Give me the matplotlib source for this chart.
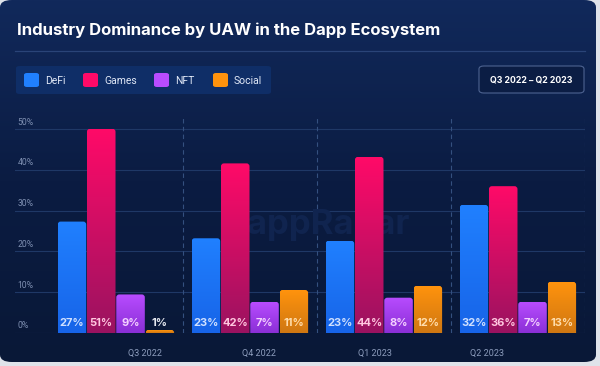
import numpy as np
import matplotlib.pyplot as plt
from matplotlib.patches import FancyBboxPatch
from matplotlib.colors import LinearSegmentedColormap

quarters = ['Q3 2022', 'Q4 2022', 'Q1 2023', 'Q2 2023']
series = ['DeFi', 'Games', 'NFT', 'Social']
# bar heights (%)
defi = [27.3, 23.2, 22.6, 31.4]
games = [50.1, 41.6, 43.2, 36.0]
nft = [9.4, 7.6, 8.6, 7.6]
social = [0.7, 10.5, 11.5, 12.5]
# printed labels
defi_lbl = [27, 23, 23, 32]
games_lbl = [51, 42, 44, 36]
nft_lbl = [9, 7, 8, 7]
social_lbl = [1, 11, 12, 13]
yticks = [0, 10, 20, 30, 40, 50]
quarter_label_pos = [0.22, 1.07, 1.93, 2.77]

top_cols = ['#2080ff', '#ff0a68', '#b84cff', '#ff930d']
bot_cols = ['#1764e8', '#9a1360', '#8a2fd6', '#cf7712']
lbl_cols = ['#cfe0ff', '#ffc6df', '#f3d0ff', '#ffdcaa']

W, H = 600, 366
fig = plt.figure(figsize=(6, 3.66), dpi=100, facecolor='#dfe3ea')


def fx(x):
    return x / W


def fy(y):
    return 1 - y / H


# card background with vertical gradient
bg = fig.add_axes([0, fy(362), fx(596), 1 - fy(362)])
bg.set_axis_off()
grad = np.linspace(0, 1, 256)[:, None]
bg_cmap = LinearSegmentedColormap.from_list('bg', ['#11295b', '#0b1c42', '#091837'])
card = FancyBboxPatch((0, 0), 1, 1, boxstyle='round,pad=0,rounding_size=0.02',
                      transform=bg.transAxes, facecolor='none', edgecolor='none')
bg.add_patch(card)
im = bg.imshow(grad, aspect='auto', cmap=bg_cmap, extent=[0, 1, 0, 1],
               transform=bg.transAxes)
im.set_clip_path(card)

# title and rule
fig.text(fx(17), fy(30), 'Industry Dominance by UAW in the Dapp Ecosystem',
         color='white', fontsize=12, fontweight='bold', family='Inter',
         va='center', ha='left')
fig.add_artist(plt.Line2D([fx(15), fx(585)], [fy(51), fy(51)],
                          color='#2a4478', lw=0.9))

# legend box
fig.add_artist(FancyBboxPatch((fx(16), fy(94)), fx(255), fy(66) - fy(94),
                              boxstyle='round,pad=0,rounding_size=0.006',
                              transform=fig.transFigure, facecolor='#0f2e67',
                              edgecolor='none'))
sq_x = [24, 83, 154, 213]
for name, col, sx in zip(series, top_cols, sq_x):
    fig.add_artist(FancyBboxPatch((fx(sx), fy(87)), fx(15), fy(73) - fy(87),
                                  boxstyle='round,pad=0,rounding_size=0.005',
                                  transform=fig.transFigure, facecolor=col,
                                  edgecolor='none'))
    fig.text(fx(sx + 21), fy(80.5), name, color='#dfe7f6', fontsize=7.5,
             va='center', ha='left', family='Roboto')

# date range box
fig.add_artist(FancyBboxPatch((fx(479), fy(93)), fx(105), fy(66) - fy(93),
                              boxstyle='round,pad=0,rounding_size=0.008',
                              transform=fig.transFigure, facecolor='#0b1d44',
                              edgecolor='#4d6391', lw=0.8))
fig.text(fx(531.5), fy(80), 'Q3 2022 – Q2 2023', color='white', fontsize=6.3,
         fontweight='bold', family='Inter', va='center', ha='center')

# plot area
px_per_pct = 4.07
x_left, x_right, y_zero, y_top = 15, 585, 332.7, 118
ymax = (y_zero - y_top) / px_per_pct
ax = fig.add_axes([fx(x_left), fy(y_zero), fx(x_right - x_left), fy(y_top) - fy(y_zero)])
ax.set_facecolor('none')
ax.set_xlim(-0.753, 3.501)
ax.set_ylim(0, ymax)
for s in ax.spines.values():
    s.set_visible(False)
ax.set_yticks([])
ax.set_xticks(quarter_label_pos)
ax.set_xticklabels(quarters, color='#8d9dbd', fontsize=6.5, family='Roboto')
ax.tick_params(axis='x', length=0, pad=12)

for t in yticks:
    ax.axhline(t, color='#1f3866', lw=0.8, zorder=0)
    ax.text(-0.735, t + 0.6, f'{t}%', color='#7f90b2', fontsize=6.2,
            va='bottom', ha='left', family='Roboto')
for sep in [0.5, 1.5, 2.5, 3.5]:
    ax.axvline(sep, color='#34507f', lw=0.8, ls=(0, (4, 3)), zorder=0)

# watermark
ax.text(1.5, 26.5, 'DappRadar', color='#10244f', fontsize=25, fontweight='bold',
        family='Inter', ha='center', va='center', zorder=0.5)

x = np.arange(len(quarters))
bw = 0.213
step = 0.2187
asp = (1 / px_per_pct) / (1 / 134.0)
vals = [defi, games, nft, social]
lbls = [defi_lbl, games_lbl, nft_lbl, social_lbl]
for k in range(4):
    bars = ax.bar(x + (k - 1.5) * step, vals[k], width=bw, color=top_cols[k], zorder=1)
    cmap = LinearSegmentedColormap.from_list(series[k], [bot_cols[k], top_cols[k]])
    for b, lab in zip(bars, lbls[k]):
        b.set_visible(False)
        bx, bwid, bh = b.get_x(), b.get_width(), b.get_height()
        clip = FancyBboxPatch((bx, -3), bwid, bh + 3,
                              boxstyle='round,pad=0,rounding_size=0.022',
                              mutation_aspect=asp, transform=ax.transData,
                              facecolor='none', edgecolor='none')
        ax.add_patch(clip)
        g = ax.imshow(grad, aspect='auto', cmap=cmap, origin='lower',
                      extent=[bx, bx + bwid, 0, bh], zorder=1)
        g.set_clip_path(clip)
        col = lbl_cols[k] if bh > 4 else '#e6e9f0'
        ax.text(bx + bwid / 2, 2.3, f'{lab}%', color=col, fontsize=8,
                fontweight='bold', family='Inter', ha='center', va='center', zorder=3)

ax.set_xlim(-0.753, 3.501)
ax.set_ylim(0, ymax)
fig.savefig('out.png', dpi=100, facecolor=fig.get_facecolor())
